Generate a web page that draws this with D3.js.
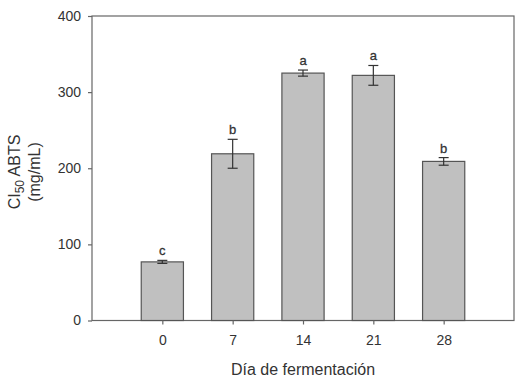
<!DOCTYPE html>
<html>
<head>
<meta charset="utf-8">
<script src="https://cdn.jsdelivr.net/npm/d3@7"></script>
<style>
  body { margin: 0; background: #fff; }
  text { font-family: "Liberation Sans", Arial, sans-serif; fill: #333; }
</style>
</head>
<body>
<div id="vis"></div>
<script>
// data
var days = [0, 7, 14, 21, 28];
var means = [77, 219, 325, 322, 209];
var errors = [2, 19, 4, 13, 5];
var letters = ["c", "b", "a", "a", "b"];
var yTicks = [0, 100, 200, 300, 400];

var width = 519, height = 381;
var margin = {left: 92, right: 5, top: 16, bottom: 60};
var barDays = 4.2;

var svg = d3.select("#vis").append("svg")
    .attr("width", width)
    .attr("height", height);

var x = d3.scaleLinear().domain([-7, 35]).range([margin.left, width - margin.right]);
var y = d3.scaleLinear().domain([0, 400]).range([height - margin.bottom - 0.5, margin.top]);

var axisColor = "#666";

// frame
svg.append("rect")
    .attr("x", x(-7)).attr("y", y(400))
    .attr("width", x(35) - x(-7)).attr("height", y(0) - y(400))
    .attr("fill", "none").attr("stroke", axisColor).attr("stroke-width", 1.2);

// bars
svg.selectAll("rect.bar")
    .data(days)
    .enter().append("rect")
    .attr("class", "bar")
    .attr("x", d => x(d - barDays / 2))
    .attr("width", x(barDays) - x(0))
    .attr("y", (d, i) => y(means[i]))
    .attr("height", (d, i) => y(0) - y(means[i]))
    .attr("fill", "#c0c0c0")
    .attr("stroke", "#555")
    .attr("stroke-width", 1.2);

// error bars
var capW = 5;
var eb = svg.selectAll("g.err").data(days).enter().append("g").attr("class", "err")
    .attr("stroke", "#333").attr("stroke-width", 1.2);
eb.append("line")
    .attr("x1", d => x(d)).attr("x2", d => x(d))
    .attr("y1", (d, i) => y(means[i] + errors[i]))
    .attr("y2", (d, i) => y(means[i] - errors[i]));
eb.append("line")
    .attr("x1", d => x(d) - capW).attr("x2", d => x(d) + capW)
    .attr("y1", (d, i) => y(means[i] + errors[i]))
    .attr("y2", (d, i) => y(means[i] + errors[i]));
eb.append("line")
    .attr("x1", d => x(d) - capW).attr("x2", d => x(d) + capW)
    .attr("y1", (d, i) => y(means[i] - errors[i]))
    .attr("y2", (d, i) => y(means[i] - errors[i]));

// significance letters
svg.selectAll("text.letter")
    .data(days)
    .enter().append("text")
    .attr("class", "letter")
    .attr("x", d => x(d))
    .attr("y", (d, i) => y(means[i] + errors[i]) - 5)
    .attr("text-anchor", "middle")
    .style("font-size", "13px")
    .attr("stroke", "#333").attr("stroke-width", 0.3)
    .text((d, i) => letters[i]);

// axes
var yAxis = svg.append("g")
    .attr("transform", "translate(" + x(-7) + ",0)")
    .call(d3.axisLeft(y).tickValues(yTicks).tickSize(4).tickPadding(7));
var xAxis = svg.append("g")
    .attr("transform", "translate(0," + y(0) + ")")
    .call(d3.axisBottom(x).tickValues(days).tickSize(4).tickPadding(11));

[yAxis, xAxis].forEach(function(a) {
    a.select(".domain").remove();
    a.selectAll("line").attr("stroke", axisColor).attr("stroke-width", 1.2);
    a.selectAll("text").style("font-size", "14px").style("font-family", "'Liberation Sans', Arial, sans-serif").attr("fill", "#333");
});

// axis titles
svg.append("text")
    .attr("x", (x(-7) + x(35)) / 2)
    .attr("y", 374.5)
    .attr("text-anchor", "middle")
    .style("font-size", "16px")
    .text("Día de fermentación");

var yt = svg.append("text")
    .attr("transform", "translate(20,172) rotate(-90)")
    .attr("text-anchor", "middle")
    .style("font-size", "16px");
yt.append("tspan").text("CI");
yt.append("tspan").attr("dy", 4).style("font-size", "12px").text("50");
yt.append("tspan").attr("dy", -4).text(" ABTS");

svg.append("text")
    .attr("transform", "translate(40,172) rotate(-90)")
    .attr("text-anchor", "middle")
    .style("font-size", "16px")
    .text("(mg/mL)");
</script>
</body>
</html>
